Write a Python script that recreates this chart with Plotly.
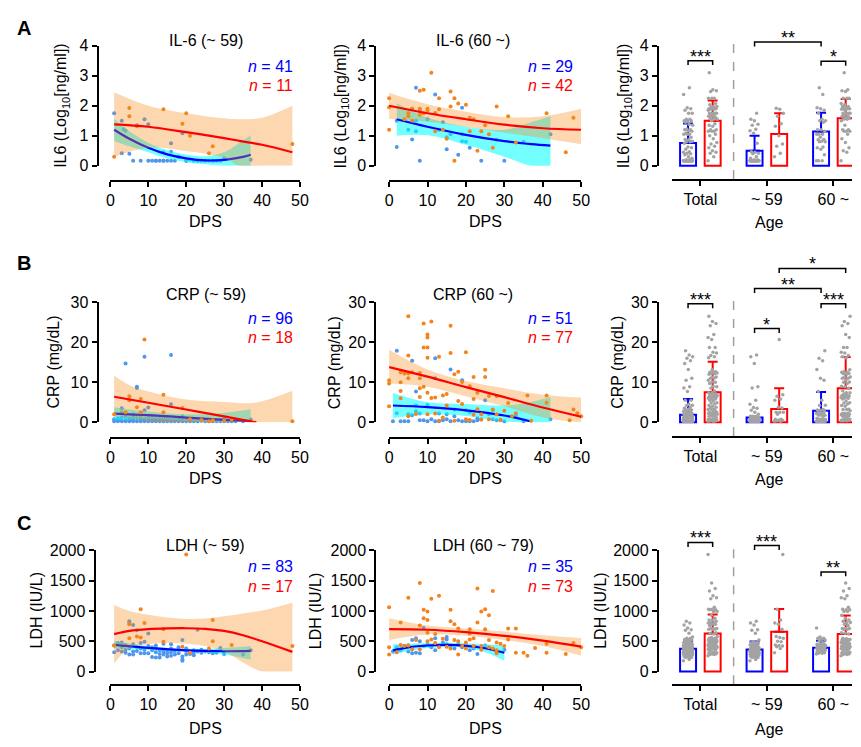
import plotly.graph_objects as go

# ---------------- data ----------------
dps_ticks = [0, 10, 20, 30, 40, 50]
group_labels = ["Total", "~ 59", "60 ~"]

# IL-6 (~59)
il6_young_blue = [(1,1.75),(3,1.5),(3,0.42),(3.5,1.22),(4,1.17),(5,0.4),(6,0.17),(7,1.35),(8,0.17),(9,1.55),
                  (10,1.38),(10,0.17),(11,0.17),(12,0.17),(13,0.17),(14,0.17),(14,0.45),(15,0.17),(16,0.17),(16,0.75),
                  (16,0.47),(17,0.17),(18,0.3),(19,1.08),(20,0.17),(21,0.2),(22,0.17),(23,0.17),(24,0.17),(25,0.17),
                  (26,0.17),(27,0.17),(28,0.17),(29,0.17),(30,0.25),(37,0.2),(12,0.17),(14,0.17),(20,0.17),(23,0.17),(27,0.17)]
il6_young_orange = [(1,0.3),(5,1.92),(5,1.65),(7,1.32),(14,1.88),(19,1.4),(20,1.75),(21,1.0),(26,0.42),(27,0.65),(48,0.73)]
il6_young_bfit_x = [1, 5, 10, 15, 20, 25, 30, 35, 37]
il6_young_bfit = [1.2, 0.9, 0.6, 0.38, 0.25, 0.18, 0.2, 0.3, 0.37]
il6_young_blo = [0.83, 0.65, 0.45, 0.25, 0.12, 0.05, 0.0, 0.0, 0.0]
il6_young_bhi = [1.57, 1.15, 0.77, 0.52, 0.38, 0.32, 0.45, 0.85, 1.02]
il6_young_rfit_x = [1, 10, 20, 30, 34, 40, 48]
il6_young_rfit = [1.38, 1.3, 1.12, 0.92, 0.83, 0.7, 0.45]
il6_young_rlo = [0.3, 0.6, 0.49, 0.26, 0.0, 0.0, 0.0]
il6_young_rhi = [2.45, 2.0, 1.75, 1.58, 1.55, 1.6, 2.0]

# IL-6 (60~)
il6_old_blue = [(2,0.63),(2,1.5),(5,1.2),(6,0.88),(6,1.9),(7,2.6),(7,1.15),(7,1.5),(8,0.17),(8,1.85),(10,1.55),
                (12,2.37),(12,1.75),(13,1.2),(14,1.45),(15,0.55),(15,0.95),(16,1.05),(18,0.37),(19,1.93),(19,1.05),
                (19,0.82),(20,0.8),(21,0.6),(24,0.17),(28,0.87),(30,0.17),(35,0.8),(42,1.05)]
il6_old_orange = [(0,2.25),(0,1.95),(0,1.2),(4,1.55),(5,1.75),(5,1.65),(6,1.5),(8,2.5),(8,1.9),(8,1.7),(9,2.53),
                  (9,1.75),(10,1.9),(10,1.85),(11,3.1),(12,1.15),(13,2.25),(13,1.88),(15,0.9),(16,2.47),(16,1.97),
                  (17,2.25),(17,0.17),(18,2.07),(20,2.03),(21,1.6),(21,1.15),(23,0.5),(24,1.15),(25,1.35),(26,1.05),
                  (27,0.6),(28,1.97),(31,1.65),(33,0.78),(41,1.75),(46,0.45),(48,1.6),(14,1.2),(12,1.75),(22,1.55),(6,1.9)]
il6_old_bfit_x = [2, 10, 20, 30, 37, 42]
il6_old_bfit = [1.55, 1.3, 1.03, 0.82, 0.72, 0.67]
il6_old_blo = [1.0, 1.02, 0.7, 0.3, 0.0, 0.0]
il6_old_bhi = [2.08, 1.6, 1.3, 1.2, 1.45, 1.65]
il6_old_rfit_x = [0, 10, 20, 30, 40, 50]
il6_old_rfit = [2.0, 1.75, 1.55, 1.37, 1.25, 1.2]
il6_old_rlo = [1.57, 1.47, 1.3, 1.1, 0.92, 0.72]
il6_old_rhi = [2.42, 2.05, 1.8, 1.62, 1.65, 1.9]

# CRP (~59)
crp_young_blue = [(4,14.7),(7,8.9),(7,8.6),(9,16.4),(16,16.8),(5,5.5),(16,4.5),(10,3.7),(9,3.0),(3,3.5),(3,2.5),
                  (19,1.5),(30,1.2),(37,0.7),(8,1.2),(11,1.5),(14,1.4),(6,2.0),(2,1.0),(1,0.8),
                  (1,0.3),(2,0.3),(2,0.8),(3,0.3),(3,1.2),(4,0.3),(4,0.6),(5,0.3),(5,1.0),(6,0.3),(6,0.7),(7,0.3),
                  (7,1.1),(8,0.3),(8,0.6),(9,0.3),(9,0.9),(10,0.3),(10,1.3),(11,0.3),(11,0.7),(12,0.3),(12,1.0),
                  (13,0.3),(13,0.5),(14,0.3),(14,0.8),(15,0.3),(15,1.2),(16,0.3),(17,0.3),(17,0.7),(18,0.3),(18,0.9),
                  (19,0.3),(20,0.3),(20,0.6),(21,0.3),(22,0.3),(22,0.5),(23,0.3),(24,0.4),(25,0.3),(26,0.3),(27,0.3),
                  (28,0.3),(29,0.3),(30,0.3),(31,0.3),(32,0.3),(33,0.3),(35,0.3),(3,0.6),(5,0.6),(6,0.5),(8,0.8),
                  (10,0.5),(12,0.6),(14,0.5),(16,0.7),(18,0.5),(21,0.5),(24,0.5),(27,0.5),(2,0.5),(4,1.5),(6,1.4),
                  (9,0.6),(11,0.5),(13,1.1),(15,0.6),(17,0.5),(19,0.6),(23,0.6),(26,0.6),(29,0.6)]
crp_young_orange = [(1,2.0),(4,2.5),(5,6.5),(5,5.5),(7,3.8),(8,5.8),(8,2.5),(9,20.7),(14,6.9),(14,2.5),(19,3.6),
                    (21,0.8),(24,0.6),(27,0.5),(26,0.3),(30,0.4),(32,0.8),(48,0.3)]
crp_young_bfit_x = [1, 10, 20, 30, 37]
crp_young_bfit = [2.2, 1.8, 1.2, 0.6, 0.3]
crp_young_blo = [0.5, 0.9, 0.4, 0.0, 0.0]
crp_young_bhi = [3.8, 2.7, 2.0, 2.4, 3.3]
crp_young_rfit_x = [1, 10, 20, 30, 38.5]
crp_young_rfit = [6.4, 4.9, 3.2, 1.5, 0.0]
crp_young_rband_x = [1, 5, 10, 20, 30, 38, 48]
crp_young_rlo = [1.5, 1.0, 0.3, 0.0, 0.0, 0.0, 0.0]
crp_young_rhi = [11.7, 9.3, 7.7, 5.7, 5.1, 4.9, 7.9]

# CRP (60~)
crp_old_blue = [(2,17.9),(6,15.4),(12,16),(16,13.2),(7,7.7),(12,11),(19,10.5),(2,2.3),(3,0.3),(1,0.3),(5,2),(6,1.8),
                (7,2.8),(7,4.2),(8,0.5),(10,4.3),(11,0.8),(12,0.3),(13,0.3),(14,0.5),(15,2.0),(15,0.8),(16,0.3),
                (17,1.5),(18,0.5),(19,0.3),(20,0.3),(21,0.3),(22,0.3),(23,0.5),(24,0.7),(25,5.5),(26,2.0),(27,0.8),
                (28,0.5),(30,0.3),(33,1.8),(35,0.3),(42,0.8),(4,0.3),(9,0.5),(10,0.3),(13,2.2),(17,3.2),(20,3.0),
                (23,1.0),(27,3.1),(29,0.5),(5,0.3),(8,2.2),(21,2.5)]
crp_old_orange = [(5,26.5),(9,24.7),(11,25.2),(16,24.1),(10,21.9),(10,21.2),(9,18.7),(10,18.7),(10,16.1),(13,16.4),
                  (5,16.7),(16,17.3),(20,17.5),(3,12.5),(4,12.2),(5,12.2),(6,12.5),(8,12.3),(8,11.0),(5,11.0),(0,10.5),
                  (0,9.7),(3,10.0),(3,7.8),(8,8.5),(9,8.9),(8,6.3),(10,7.4),(11,6.1),(12,6.2),(14,6.7),(15,7.1),
                  (17,12.0),(18,12.6),(19,10.1),(21,9.0),(22,11.3),(22,5.8),(23,7.4),(25,13.1),(25,11.3),(26,6.6),
                  (27,3.2),(28,6.5),(30,2.9),(31,4.8),(33,2.3),(36,6.7),(41,6.7),(41,4.9),(47,0.5),(48,3.2),(49,2.3),
                  (50,1.5),(0,4.0),(3,6.0),(5,1.5),(7,2.1),(12,2.2),(13,0.4),(14,1.2),(17,0.4),(18,5.3),(20,0.8),
                  (22,1.9),(24,2.0),(24,0.7),(26,0.8),(29,0.6),(32,1.5),(37,0.4),(10,2.0),(15,4.2),(19,4.6),(21,0.6),
                  (23,3.3),(28,2.0)]
crp_old_bfit_x = [1, 10, 20, 30, 37]
crp_old_bfit = [4.2, 3.8, 3.0, 1.7, 0.2]
crp_old_bband_x = [1, 10, 20, 30, 36, 42]
crp_old_blo = [1.0, 2.0, 1.6, 0.2, 0.0, 0.0]
crp_old_bhi = [7.3, 5.0, 4.6, 4.2, 4.9, 6.3]
crp_old_rfit_x = [0, 10, 20, 30, 40, 50]
crp_old_rfit = [13.8, 11.4, 8.8, 6.3, 3.7, 1.4]
crp_old_rlo = [9.7, 8.9, 6.5, 4.0, 1.2, 0.0]
crp_old_rhi = [18.1, 13.2, 10.3, 8.5, 6.9, 6.2]

# LDH (~59)
ldh_young_blue = [(1,320),(1,430),(2,350),(2,470),(3,330),(3,400),(3,480),(4,360),(4,310),(4,440),(5,830),(5,800),
                  (5,280),(5,380),(6,770),(6,330),(6,450),(6,280),(7,680),(7,400),(7,340),(8,470),(8,380),(8,300),
                  (9,490),(9,360),(10,630),(10,420),(10,300),(11,400),(11,350),(11,240),(12,380),(12,230),(12,320),
                  (13,350),(13,290),(13,230),(14,460),(14,330),(14,280),(15,350),(15,250),(15,300),(16,380),(16,260),
                  (16,320),(17,340),(17,280),(18,360),(18,300),(19,520),(19,250),(19,200),(19,180),(20,340),(20,280),
                  (21,330),(21,290),(22,310),(22,270),(23,690),(23,330),(24,310),(25,330),(26,320),(27,300),(28,330),
                  (29,370),(29,390),(30,290),(30,310),(35,280),(37,350),(12,430),(16,450),(18,400),(20,380),(22,350),
                  (24,360),(26,340),(28,310),(9,300)]
ldh_young_orange = [(1,430),(5,780),(5,550),(7,580),(8,1030),(8,560),(9,800),(14,700),(14,490),(19,410),(20,1930),
                    (21,310),(26,380),(27,850),(27,500),(32,440),(48,420)]
ldh_young_bfit_x = [1, 10, 20, 30, 37]
ldh_young_bfit = [440, 390, 350, 335, 340]
ldh_young_blo = [380, 355, 325, 280, 195]
ldh_young_bhi = [510, 420, 375, 390, 420]
ldh_young_rfit_x = [1, 5, 10, 15, 20, 25, 30, 35, 40, 48]
ldh_young_rfit = [617, 670, 700, 712, 715, 705, 670, 600, 500, 325]
ldh_young_rlo = [130, 390, 450, 470, 460, 420, 330, 150, 0, 0]
ldh_young_rhi = [1100, 1000, 938, 890, 869, 875, 912, 960, 1008, 1137]

# LDH (60~79)
ldh_old_blue = [(1,330),(2,380),(2,400),(3,350),(4,420),(5,330),(5,430),(6,300),(6,520),(7,550),(7,310),(8,300),
                (8,500),(9,720),(9,420),(10,450),(11,400),(12,350),(12,550),(13,430),(14,480),(15,570),(15,530),
                (15,450),(16,420),(17,380),(18,450),(19,400),(20,430),(21,350),(22,380),(23,290),(25,430),(28,330),(30,360)]
ldh_old_orange = [(0,1060),(0,400),(0,280),(3,810),(5,1220),(8,1460),(8,760),(9,1020),(9,880),(10,990),(10,850),
                  (10,640),(11,1200),(13,1250),(16,1020),(16,830),(17,780),(18,710),(21,700),(21,630),(23,1370),
                  (23,810),(24,990),(25,1030),(25,700),(26,930),(27,1330),(28,480),(31,710),(33,710),(38,390),
                  (41,460),(46,290),(48,470),(50,400),(33,310),(35,310),(36,260),(41,310),(2,320),(3,440),(4,420),
                  (5,430),(6,370),(7,520),(8,370),(10,500),(11,530),(12,470),(14,540),(15,410),(16,380),(17,520),
                  (18,280),(19,420),(20,380),(21,530),(22,420),(22,550),(24,360),(26,520),(27,380),(28,300),(29,460),
                  (30,420),(13,400),(18,500),(20,480),(24,420),(26,400),(28,350),(12,620),(31,530)]
ldh_old_bfit_x = [1, 5, 10, 15, 20, 25, 30]
ldh_old_bfit = [350, 400, 430, 440, 425, 385, 310]
ldh_old_blo = [280, 340, 390, 400, 390, 320, 180]
ldh_old_bhi = [450, 460, 470, 475, 465, 450, 440]
ldh_old_rfit_x = [0, 10, 20, 30, 40, 50]
ldh_old_rfit = [700, 690, 650, 590, 510, 410]
ldh_old_rlo = [520, 610, 590, 520, 420, 260]
ldh_old_rhi = [880, 760, 710, 660, 600, 555]

# bar summaries: order Total-blue, Total-red, ~59-blue, ~59-red, 60~-blue, 60~-red
il6_means = [0.76, 1.5, 0.5, 1.06, 1.14, 1.58]
il6_sd = [0.65, 0.67, 0.5, 0.69, 0.63, 0.64]
crp_means = [1.9, 7.5, 1.2, 3.35, 2.9, 8.5]
crp_sd = [3.9, 7.6, 0.0, 5.15, 4.7, 7.8]
ldh_means = [376, 629, 365, 655, 392, 618]
ldh_sd = [118, 311, 129, 377, 118, 307]

# significance brackets: (bar i, bar j, level, label)
il6_sig = [(0, 1, 3.5, "***"), (2, 4, 4.12, "**"), (4, 5, 3.48, "*")]
crp_sig = [(0, 1, 29.6, "***"), (2, 3, 23.4, "*"), (2, 4, 33.4, "**"), (3, 5, 38.4, "*"), (4, 5, 29.6, "***")]
ldh_sig = [(0, 1, 2130, "***"), (2, 3, 2080, "***"), (4, 5, 1645, "**")]

# ---------------- style / layout ----------------
W, H = 861, 747
FONT = "Liberation Sans, Arial, sans-serif"
BLUE_PT = "#4f97ee"
ORANGE_PT = "#f5831c"
CYAN = "rgba(0,255,255,0.55)"
PEACH = "rgba(247,140,30,0.35)"
LBLUE = "#0000ff"
LRED = "#ff0000"
GRAY = "#a3a3a3"

def fx(p):
    return p / W

def fy(p):
    return 1 - p / H

ROWS = [
    dict(top=38.5, zero=161.5, xline=177, bxline=175, btop=10, ymax=4, ticks=[0, 1, 2, 3, 4],
         ylab="IL6 (Log<sub>10</sub>[ng/ml])", dash_top=4.1, xt_y=218, ylx=[59, 343, 630],
         title_y=33, n_y=[60, 79], yl_left=95),
    dict(top=301, zero=424, xline=440, bxline=438, btop=252, ymax=30, ticks=[0, 10, 20, 30],
         ylab="CRP (mg/dL)", dash_top=30.8, xt_y=481, ylx=[50, 335, 623],
         title_y=293, n_y=[318, 337], yl_left=95),
    dict(top=555, zero=679, xline=693, bxline=692, btop=525, ymax=2000, ticks=[0, 500, 1000, 1500, 2000],
         ylab="LDH (IU/L)", dash_top=2030, xt_y=737, ylx=[33, 317, 606],
         title_y=550, n_y=[572, 592], yl_left=92),
]
COLS = [dict(x0=108, x1=300.5, yline=None, tx=205), dict(x0=391, x1=586, yline=377, tx=476)]

panels = [
    [dict(title="IL-6 (~ 59)", blue=il6_young_blue, orange=il6_young_orange, nb=41, nr=11,
          bl=(il6_young_bfit_x, il6_young_bfit), bb=(il6_young_bfit_x, il6_young_blo, il6_young_bhi),
          rl=(il6_young_rfit_x, il6_young_rfit), rb=(il6_young_rfit_x, il6_young_rlo, il6_young_rhi)),
     dict(title="IL-6 (60 ~)", blue=il6_old_blue, orange=il6_old_orange, nb=29, nr=42,
          bl=(il6_old_bfit_x, il6_old_bfit), bb=(il6_old_bfit_x, il6_old_blo, il6_old_bhi),
          rl=(il6_old_rfit_x, il6_old_rfit), rb=(il6_old_rfit_x, il6_old_rlo, il6_old_rhi))],
    [dict(title="CRP (~ 59)", blue=crp_young_blue, orange=crp_young_orange, nb=96, nr=18,
          bl=(crp_young_bfit_x, crp_young_bfit), bb=(crp_young_bfit_x, crp_young_blo, crp_young_bhi),
          rl=(crp_young_rfit_x, crp_young_rfit), rb=(crp_young_rband_x, crp_young_rlo, crp_young_rhi)),
     dict(title="CRP (60 ~)", blue=crp_old_blue, orange=crp_old_orange, nb=51, nr=77,
          bl=(crp_old_bfit_x, crp_old_bfit), bb=(crp_old_bband_x, crp_old_blo, crp_old_bhi),
          rl=(crp_old_rfit_x, crp_old_rfit), rb=(crp_old_rfit_x, crp_old_rlo, crp_old_rhi))],
    [dict(title="LDH (~ 59)", blue=ldh_young_blue, orange=ldh_young_orange, nb=83, nr=17,
          bl=(ldh_young_bfit_x, ldh_young_bfit), bb=(ldh_young_bfit_x, ldh_young_blo, ldh_young_bhi),
          rl=(ldh_young_rfit_x, ldh_young_rfit), rb=(ldh_young_rfit_x, ldh_young_rlo, ldh_young_rhi)),
     dict(title="LDH (60 ~ 79)", blue=ldh_old_blue, orange=ldh_old_orange, nb=35, nr=73,
          bl=(ldh_old_bfit_x, ldh_old_bfit), bb=(ldh_old_bfit_x, ldh_old_blo, ldh_old_bhi),
          rl=(ldh_old_rfit_x, ldh_old_rfit), rb=(ldh_old_rfit_x, ldh_old_rlo, ldh_old_rhi))],
]
bars = [(il6_means, il6_sd, il6_sig), (crp_means, crp_sd, crp_sig), (ldh_means, ldh_sd, ldh_sig)]

fig = go.Figure()
layout = dict(width=W, height=H, margin=dict(l=0, r=0, t=0, b=0), paper_bgcolor="white",
              plot_bgcolor="rgba(0,0,0,0)", showlegend=False, barmode="overlay",
              font=dict(family=FONT, size=16, color="black"))
annotations = []

AX = dict(showgrid=False, zeroline=False, showline=True, linecolor="black", linewidth=2,
          ticks="outside", ticklen=5, tickwidth=2, tickcolor="black",
          tickfont=dict(family=FONT, size=16, color="black"))

def aid(i):
    return "" if i == 1 else str(i)

def text(x, y, t, size=16, color="black", xanchor="center", yanchor="middle", angle=0, bold=False):
    if bold:
        t = "<b>" + t + "</b>"
    annotations.append(dict(x=fx(x), y=fy(y), xref="paper", yref="paper", text=t, showarrow=False,
                            xanchor=xanchor, yanchor=yanchor, textangle=angle,
                            font=dict(family=FONT, size=size, color=color)))

def line_trace(xs, ys, color, xa, ya):
    return go.Scatter(x=xs, y=ys, mode="lines", line=dict(color=color, width=2.2, shape="spline"),
                      xaxis=xa, yaxis=ya, hoverinfo="skip")

def band_traces(xs, lo, hi, color, xa, ya):
    return [go.Scatter(x=xs, y=lo, mode="lines", line=dict(width=0, shape="spline"), xaxis=xa, yaxis=ya,
                       hoverinfo="skip"),
            go.Scatter(x=xs, y=hi, mode="lines", line=dict(width=0, shape="spline"), fill="tonexty",
                       fillcolor=color, xaxis=xa, yaxis=ya, hoverinfo="skip")]

def pts_trace(pts, color, xa, ya):
    return go.Scatter(x=[p[0] for p in pts], y=[p[1] for p in pts], mode="markers",
                      marker=dict(size=4, color=color), cliponaxis=False, xaxis=xa, yaxis=ya, hoverinfo="skip")

BAR_OFF = 0.185
def bar_center(i):
    return i // 2 + (-BAR_OFF if i % 2 == 0 else BAR_OFF)

for r, geo in enumerate(ROWS):
    # ---- scatter panels ----
    for c in range(2):
        idx = 3 * r + c + 1
        xa, ya = "x" + aid(idx), "y" + aid(idx)
        col = COLS[c]
        p = panels[r][c]
        yline = geo["yl_left"] if c == 0 else col["yline"]
        layout["xaxis" + aid(idx)] = dict(AX, domain=[fx(col["x0"]), fx(col["x1"])], range=[0, 50],
                                           anchor="free", position=fy(geo["xline"]), tickvals=dps_ticks)
        layout["yaxis" + aid(idx)] = dict(AX, domain=[fy(geo["zero"]), fy(geo["top"])], range=[0, geo["ymax"]],
                                           anchor="free", position=fx(yline), tickvals=geo["ticks"])
        fig.add_trace(pts_trace(p["blue"], BLUE_PT, xa, ya))
        for t in band_traces(*p["bb"], CYAN, xa, ya):
            fig.add_trace(t)
        fig.add_trace(line_trace(*p["bl"], LBLUE, xa, ya))
        fig.add_trace(pts_trace(p["orange"], ORANGE_PT, xa, ya))
        for t in band_traces(*p["rb"], PEACH, xa, ya):
            fig.add_trace(t)
        fig.add_trace(line_trace(*p["rl"], LRED, xa, ya))

        tx = col["tx"] if r < 2 or c == 0 else 487
        text(tx, geo["title_y"], p["title"])
        nx = 295 if c == 0 else 580
        text(nx, geo["n_y"][0], "<i>n</i> = %d" % p["nb"], color=LBLUE, xanchor="right")
        text(nx, geo["n_y"][1], "<i>n</i> = %d" % p["nr"], color=LRED, xanchor="right")
        text((col["x0"] + col["x1"]) / 2, geo["xt_y"], "DPS")
        text(geo["ylx"][c], (geo["top"] + geo["zero"]) / 2, geo["ylab"], angle=-90)

    # ---- bar panel ----
    idx = 3 * r + 3
    xa, ya = "x" + aid(idx), "y" + aid(idx)
    s = (geo["zero"] - geo["top"]) / geo["ymax"]
    lo = -(geo["bxline"] - geo["zero"]) / s
    hi = (geo["zero"] - geo["btop"]) / s
    layout["xaxis" + aid(idx)] = dict(AX, domain=[fx(678), 1.0], range=[-0.43, 2.28], anchor=ya,
                                       tickvals=[0, 1, 2], ticktext=group_labels)
    layout["yaxis" + aid(idx)] = dict(domain=[fy(geo["bxline"]), fy(geo["btop"])], range=[lo, hi],
                                       visible=False, anchor=xa)
    did = 10 + r
    layout["yaxis" + str(did)] = dict(AX, domain=[fy(geo["zero"]), fy(geo["top"])], range=[0, geo["ymax"]],
                                       anchor="free", position=fx(664), tickvals=geo["ticks"])
    fig.add_trace(go.Scatter(x=[0], y=[0], mode="markers", marker=dict(opacity=0), xaxis=xa,
                             yaxis="y" + str(did), hoverinfo="skip"))

    means, sds, sig = bars[r]
    # dashed separator
    fig.add_trace(go.Scatter(x=[0.5, 0.5], y=[lo, geo["dash_top"]], mode="lines",
                             line=dict(color="#a0a0a0", width=1.5, dash="dash"), xaxis=xa, yaxis=ya,
                             hoverinfo="skip"))
    for k, color in enumerate([LBLUE, LRED]):
        ids = [k, k + 2, k + 4]
        fig.add_trace(go.Bar(x=[bar_center(i) for i in ids], y=[means[i] for i in ids], width=0.24,
                             marker=dict(color="rgba(0,0,0,0)", line=dict(color=color, width=2)),
                             error_y=dict(type="data", symmetric=False, array=[sds[i] for i in ids],
                                          arrayminus=[0, 0, 0], color=color, thickness=2, width=5),
                             xaxis=xa, yaxis=ya, hoverinfo="skip"))
    # gray jittered dots: groups built from the scatter data
    p_y, p_o = panels[r][0], panels[r][1]
    groups = [p_y["blue"] + p_o["blue"], p_y["orange"] + p_o["orange"],
              p_y["blue"], p_y["orange"], p_o["blue"], p_o["orange"]]
    gx, gy = [], []
    for i, g in enumerate(groups):
        vals = sorted(v for _, v in g)
        for j, v in enumerate(vals):
            gx.append(bar_center(i) + (((j * 0.618034) % 1.0) - 0.5) * 0.14)
            gy.append(v)
    fig.add_trace(go.Scatter(x=gx, y=gy, mode="markers", marker=dict(size=3.5, color=GRAY),
                             xaxis=xa, yaxis=ya, hoverinfo="skip"))
    # significance brackets
    drop = 4.5 / s
    for (i, j, lvl, lab) in sig:
        x1, x2 = bar_center(i), bar_center(j)
        fig.add_trace(go.Scatter(x=[x1, x1, x2, x2], y=[lvl - drop, lvl, lvl, lvl - drop], mode="lines",
                                 line=dict(color="black", width=1.5), xaxis=xa, yaxis=ya, hoverinfo="skip",
                                 cliponaxis=False))
        annotations.append(dict(x=(x1 + x2) / 2, y=lvl, xref=xa, yref=ya, text=lab, showarrow=False,
                                xanchor="center", yanchor="middle", yshift=4,
                                font=dict(family=FONT, size=18, color="black")))
    text(geo["ylx"][2], (geo["top"] + geo["zero"]) / 2, geo["ylab"], angle=-90)
    text(777, geo["xt_y"] + 1, "Age")

# panel letters
text(20, 20, "A", size=20, bold=True)
text(20, 261, "B", size=20, bold=True)
text(20, 527, "C", size=20, bold=True)

layout["annotations"] = annotations
fig.update_layout(**layout)
fig.write_html("out.html", config={"displayModeBar": False},
               post_script="document.body.style.margin='0';")
